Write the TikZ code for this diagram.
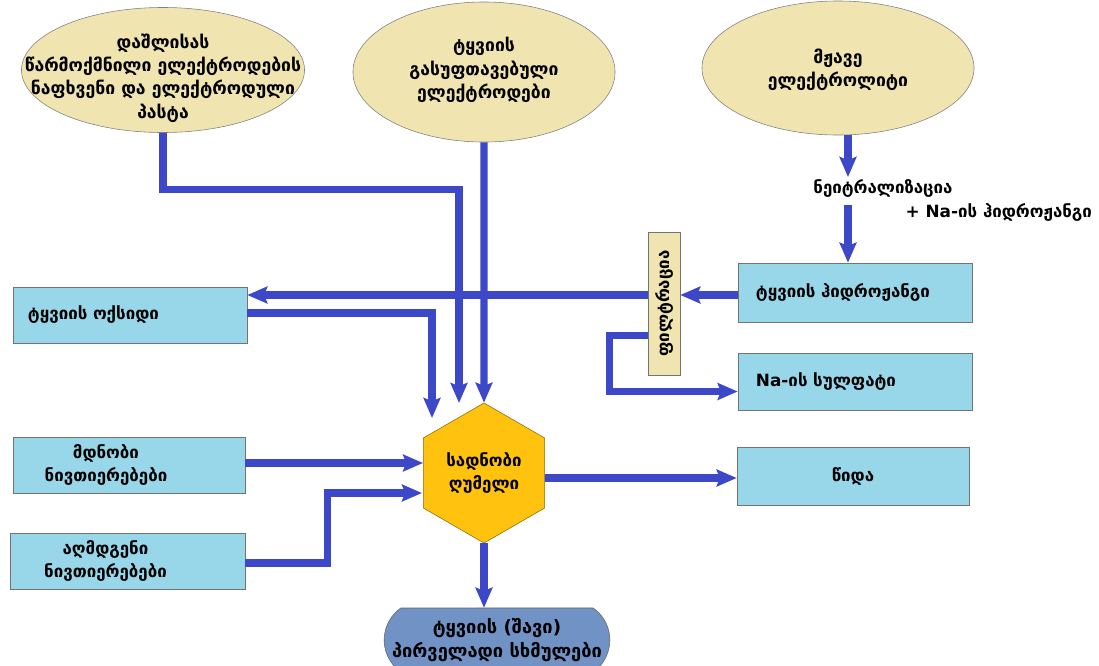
\documentclass[tikz,border=0pt]{standalone}
\usepackage{fontspec}
\setmainfont{DejaVu Sans}
\usepackage{tikz}
\usetikzlibrary{arrows.meta,shapes.geometric,shapes.misc}
\definecolor{sandfill}{RGB}{240,228,176}
\definecolor{boxfill}{RGB}{152,215,233}
\definecolor{ovenfill}{RGB}{255,194,14}
\definecolor{ingotfill}{RGB}{112,146,197}
\definecolor{arrblue}{RGB}{60,72,200}

\begin{document}
\begin{tikzpicture}[
  x=0.025cm, y=-0.025cm,
  font=\fontsize{12}{16.5}\selectfont\bfseries,
  src/.style={ellipse, draw=black!50, fill=sandfill, inner sep=0pt},
  srctext/.style={align=center, font=\fontsize{12.5}{16.5}\selectfont\bfseries},
  box/.style={rectangle, draw=black!55, fill=boxfill, minimum height=1.4cm,
              text width=4.95cm, inner xsep=0.45cm, align=left},
  cbox/.style={rectangle, draw=black!55, fill=boxfill,
               minimum width=5.8cm, minimum height=1.35cm},
  filt/.style={rectangle, draw=black!55, fill=sandfill, inner sep=0pt,
               minimum width=0.8cm, minimum height=3.575cm},
  oven/.style={regular polygon, regular polygon sides=6, shape border rotate=30,
               draw=ovenfill!55!black, fill=ovenfill, minimum size=3.5cm,
               inner sep=0pt, align=center},
  ingot/.style={rounded rectangle, rounded rectangle arc length=110,
                draw=black!60, fill=ingotfill, minimum width=5.875cm,
                minimum height=1.6cm, align=center,
                font=\fontsize{13}{16.5}\selectfont\bfseries},
  arr/.style={-{Stealth[length=0.5cm, width=0.42cm, inset=0.08cm]},
              line width=5pt, draw=arrblue}
]
\useasboundingbox (0,0) rectangle (1099,665);
%% ── Sources (top row of ellipses) ───────────────────────────────────────
\node[src, minimum width=7.075cm, minimum height=3.125cm,
      label={[srctext, yshift=-0.2cm]center:%
        დაშლისას\\წარმოქმნილი ელექტროდების\\ნაფხვენი და ელექტროდული\\პასტა}]
      (scrap) at (163,70) {};
\node[src, minimum width=6.55cm, minimum height=3.5cm,
      label={[srctext, yshift=0.05cm]center:ტყვიის\\გასუფთავებული\\ელექტროდები}]
      (clean) at (484,72) {};
\node[src, minimum width=6.8cm, minimum height=3.35cm,
      label={[srctext, yshift=-0.05cm]center:მჟავე\\ელექტროლიტი}]
      (acid) at (838,68) {};
%% ── Neutralisation labels ───────────────────────────────────────────────
\node (neut) at (883,188) {ნეიტრალიზაცია};
\node[anchor=east] (naoh) at (1097,212) {+ Na-ის ჰიდროჟანგი};
\coordinate (n1) at (848,177);
\coordinate (n2) at (848,205);
%% ── Right column boxes + filter ─────────────────────────────────────────
\node[box, minimum height=1.475cm] (hydr) at (855,292.5) {ტყვიის ჰიდროჟანგი};
\node[box, minimum height=1.425cm] (sulf) at (855,381.5) {Na-ის სულფატი};
\node[filt] (filter) at (664,303.5) {\rotatebox{90}{ფილტრაცია}};
\node[cbox, minimum height=1.45cm] (slag) at (853,476) {წიდა};
%% ── Left column boxes ───────────────────────────────────────────────────
\node[box, minimum width=5.85cm, text width=5.1cm, inner xsep=0.375cm]
      (oxide) at (130,315) {ტყვიის ოქსიდი};
\node[cbox] (flux) at (129,465)
      {\hspace*{-1.15cm}\begin{tabular}{@{}c@{}}მდნობი\\ნივთიერებები\end{tabular}};
\node[cbox, minimum width=5.875cm, minimum height=1.3cm] (reduc) at (127.5,561)
      {\hspace*{-1.1cm}\begin{tabular}{@{}c@{}}აღმდგენი\\ნივთიერებები\end{tabular}};
%% ── Furnace + product ───────────────────────────────────────────────────
\node[oven] (furn) at (484,473) {სადნობი\\ღუმელი};
\node[ingot] (bullion) at (497,640) {ტყვიის (შავი)\\პირველადი სხმულები};
\coordinate (in1) at (432,418);
\coordinate (in2) at (459,403);
\coordinate (in4) at (422,493);
%% ── Arrows: sources → furnace ───────────────────────────────────────────
\draw[arr] (scrap.south) -- ++(0,57) -| (in2);
\draw[arr] (clean.south) -- (furn.north);
%% ── Arrows: electrolyte → hydroxide → filter ────────────────────────────
\draw[arr] (acid.south -| n1) -- (n1);
\draw[arr] (n2) -- (n2 |- hydr.north);
\draw[arr] (hydr.west |- 0,295) -- (filter.east |- 0,295);
\draw[arr] (filter.west |- 0,295) -- (oxide.east |- 0,295);
\draw[arr] ([yshift=-0.8cm]filter.west) -- ++(-38,0) |- ([yshift=-0.25cm]sulf.west);
%% ── Arrows: additions → furnace ─────────────────────────────────────────
\draw[arr] ([yshift=0.05cm]oxide.east) -| (in1);
\draw[arr] ([yshift=0.05cm]flux.east) -- ([yshift=0.05cm]flux.east -| furn.west);
\draw[arr] ([yshift=-0.05cm]reduc.east) -- ++(82,0) |- (in4);
%% ── Arrows: furnace outputs ─────────────────────────────────────────────
\draw[arr] ([yshift=-0.125cm]furn.east) -- ([yshift=-0.125cm]furn.east -| slag.west);
\draw[arr] (furn.south) -- (furn.south |- bullion.north);
\end{tikzpicture}
\end{document}
